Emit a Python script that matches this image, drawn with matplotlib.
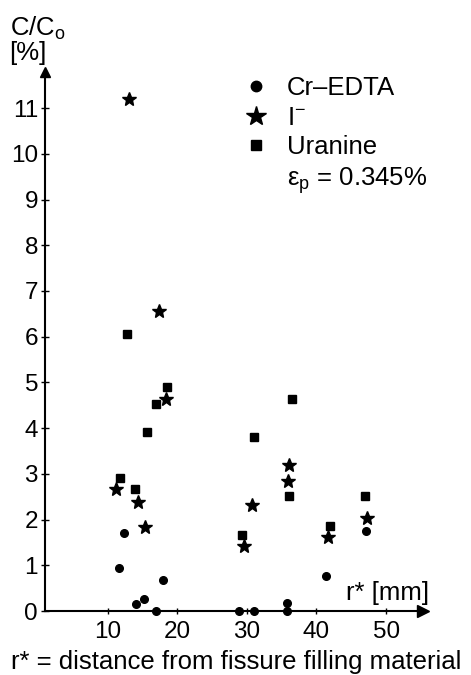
import matplotlib
matplotlib.use("Agg")
import matplotlib.pyplot as plt
from matplotlib.lines import Line2D

plt.rcParams['font.family'] = ['Liberation Sans', 'DejaVu Sans']
plt.rcParams['mathtext.fontset'] = 'custom'
plt.rcParams['mathtext.rm'] = 'Liberation Sans'
plt.rcParams['mathtext.it'] = 'Liberation Sans'

# Data (r* in mm, C/Co in %)
cr_x = [11.6, 12.3, 14.1, 15.2, 16.9, 17.9, 28.9, 31.0, 35.8, 35.8, 41.4, 47.1]
cr_y = [0.93, 1.70, 0.16, 0.27, 0.0, 0.67, 0.0, 0.0, 0.0, 0.17, 0.76, 1.76]

i_x = [13.1, 17.4, 18.4, 11.2, 14.4, 15.3, 29.6, 30.7, 36.0, 35.9, 41.7, 47.3]
i_y = [11.2, 6.57, 4.64, 2.67, 2.38, 1.83, 1.43, 2.32, 3.19, 2.85, 1.62, 2.03]

u_x = [12.8, 18.5, 17.0, 15.7, 11.8, 14.0, 29.3, 31.0, 36.5, 36.1, 41.9, 46.9]
u_y = [6.05, 4.90, 4.52, 3.91, 2.92, 2.66, 1.67, 3.81, 4.64, 2.51, 1.87, 2.52]

x_ticks = [10, 20, 30, 40, 50]
y_ticks = list(range(0, 12))

FS = 18.5
TFS = 17.5

fig = plt.figure(figsize=(4.71, 6.75), dpi=100)
ax = fig.add_axes([45/471, 1-611/675, (423-45)/471, (611-72)/675])

ax.plot(cr_x, cr_y, 'o', color='black', markersize=5.5, clip_on=False, label='Cr\u2013EDTA', zorder=5)
ax.plot(i_x, i_y, '*', color='black', markersize=10, clip_on=False, label='I$^{-}$', zorder=5)
ax.plot(u_x, u_y, 's', color='black', markersize=5.5, clip_on=False, label='Uranine', zorder=5)

ax.set_xlim(1.0, 55.3)
ax.set_ylim(0, 11.79)

for s in ['top', 'right']:
    ax.spines[s].set_visible(False)
for s in ['left', 'bottom']:
    ax.spines[s].set_linewidth(1.5)

ax.set_xticks(x_ticks)
ax.set_yticks(y_ticks)
ax.tick_params(axis='both', direction='inout', length=6, width=1.0, labelsize=TFS, color='black')
ax.tick_params(axis='x', length=4, pad=5)
ax.tick_params(axis='y', pad=2)

# axis arrows
ax.plot(1, 0, '>', color='black', markersize=8, transform=ax.get_yaxis_transform(), clip_on=False)
ax.plot(1.0, 1, '^', color='black', markersize=7, transform=ax.get_xaxis_transform(), clip_on=False)

# y-axis label
fig.text(10/471, 1-28/675, 'C/C$_\\mathrm{o}$', fontsize=FS, ha='left', va='center')
fig.text(9/471, 1-53/675, '[%]', fontsize=FS, ha='left', va='center')

# x-axis labels
fig.text(388/471, 1-593/675, 'r* [mm]', fontsize=FS, ha='center', va='center')
fig.text(236/471, 1-668.5/675, 'r* = distance from fissure filling material', fontsize=18.5,
         ha='center', va='baseline')

# legend
handles = [
    Line2D([], [], marker='o', linestyle='none', color='black', markersize=7.5),
    Line2D([], [], marker='*', linestyle='none', color='black', markersize=15),
    Line2D([], [], marker='s', linestyle='none', color='black', markersize=7),
    Line2D([], [], linestyle='none'),
]
labels = ['Cr\u2013EDTA', 'I$^{-}$', 'Uranine', '\u03b5$_\\mathrm{p}$ = 0.345%']
leg = fig.legend(handles, labels, loc='upper left', bbox_to_anchor=(247/471, 1-76/675),
                 frameon=False, fontsize=FS, handlelength=0.7, handletextpad=0.85,
                 labelspacing=0.22, borderpad=0, borderaxespad=0)

fig.savefig('out.png', dpi=100)
